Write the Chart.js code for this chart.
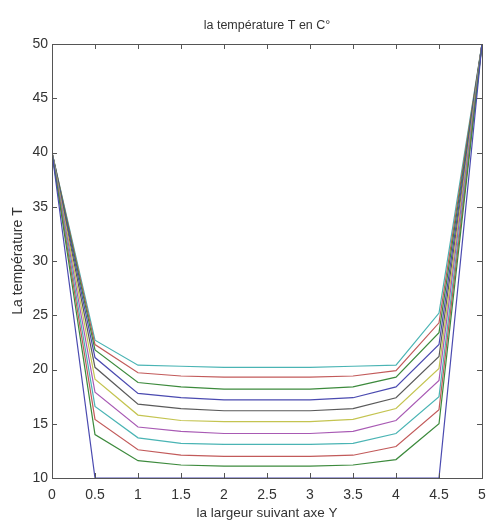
<!DOCTYPE html>
<html>
<head>
<meta charset="utf-8">
<script src="https://cdn.jsdelivr.net/npm/chart.js@4.4.0/dist/chart.umd.min.js"></script>
<style>
    body { margin: 0; background: #ffffff; }
    canvas { display: block; }
</style>
</head>
<body>
<canvas id="grafico-temperature" width="489" height="524"></canvas>
<script>
// positions le long de l'axe Y
const largeur = [0, 0.5, 1, 1.5, 2, 2.5, 3, 3.5, 4, 4.5, 5];

// courbes de température (une par pas de temps)
const courbe0 = [40, 10, 10, 10, 10, 10, 10, 10, 10, 10, 50];
const courbe1 = [40, 14.0, 11.6, 11.2, 11.1, 11.1, 11.1, 11.2, 11.7, 15.0, 50];
const courbe2 = [40, 15.4, 12.6, 12.1, 12.0, 12.0, 12.0, 12.1, 12.9, 16.3, 50];
const courbe3 = [40, 16.6, 13.7, 13.2, 13.1, 13.1, 13.1, 13.2, 14.1, 17.5, 50];
const courbe4 = [40, 17.9, 14.7, 14.3, 14.1, 14.1, 14.1, 14.3, 15.3, 19.0, 50];
const courbe5 = [40, 19.1, 15.8, 15.3, 15.2, 15.2, 15.2, 15.4, 16.4, 20.1, 50];
const courbe6 = [40, 20.2, 16.8, 16.4, 16.2, 16.2, 16.2, 16.4, 17.4, 21.2, 50];
const courbe7 = [40, 21.1, 17.8, 17.4, 17.2, 17.2, 17.2, 17.4, 18.4, 22.3, 50];
const courbe8 = [40, 21.8, 18.8, 18.4, 18.2, 18.2, 18.2, 18.4, 19.3, 23.4, 50];
const courbe9 = [40, 22.3, 19.7, 19.4, 19.3, 19.3, 19.3, 19.4, 19.9, 24.3, 50];
const courbe10 = [40, 22.7, 20.4, 20.3, 20.2, 20.2, 20.2, 20.3, 20.4, 25.2, 50];

const courbes = [courbe0, courbe1, courbe2, courbe3, courbe4, courbe5,
    courbe6, courbe7, courbe8, courbe9, courbe10];

// ordre des couleurs MATLAB (un peu délavé comme l'image)
const couleurs = ['#4a4ab0', '#3c8a3c', '#c25a5a', '#4ab4b4', '#a85ab4', '#c4c450', '#5a5a5a'];

const ticksX = [0, 0.5, 1, 1.5, 2, 2.5, 3, 3.5, 4, 4.5, 5];
const ticksY = [10, 15, 20, 25, 30, 35, 40, 45, 50];

let datasets = [];
for (var i = 0; i < courbes.length; i++) {
    let points = [];
    for (var j = 0; j < largeur.length; j++) {
        points.push({ x: largeur[j], y: courbes[i][j] });
    }
    datasets.push({
        data: points,
        borderColor: couleurs[i % couleurs.length],
        borderWidth: 1.2,
        pointRadius: 0,
        tension: 0,
        fill: false
    });
}

// petits traits vers l'intérieur + cadre complet
const cadre = {
    id: 'cadre',
    afterDraw(chart) {
        const ctx = chart.ctx;
        const a = chart.chartArea;
        const sx = chart.scales.x;
        const sy = chart.scales.y;
        ctx.save();
        ctx.strokeStyle = '#555555';
        ctx.lineWidth = 1;
        ctx.beginPath();
        for (var i = 0; i < ticksX.length; i++) {
            let px = Math.round(sx.getPixelForValue(ticksX[i])) + 0.5;
            ctx.moveTo(px, a.bottom);
            ctx.lineTo(px, a.bottom - 5);
            ctx.moveTo(px, a.top);
            ctx.lineTo(px, a.top + 5);
        }
        for (var i = 0; i < ticksY.length; i++) {
            let py = Math.round(sy.getPixelForValue(ticksY[i])) + 0.5;
            ctx.moveTo(a.left, py);
            ctx.lineTo(a.left + 5, py);
            ctx.moveTo(a.right, py);
            ctx.lineTo(a.right - 5, py);
        }
        ctx.stroke();
        ctx.strokeRect(a.left + 0.5, a.top + 0.5, a.right - a.left, a.bottom - a.top);
        ctx.restore();
    }
};

const ctx = document.getElementById('grafico-temperature');
new Chart(ctx, {
    type: 'line',
    data: { datasets: datasets },
    plugins: [cadre],
    options: {
        responsive: false,
        animation: false,
        devicePixelRatio: 1,
        layout: { padding: { left: 0, right: 7, top: 0, bottom: 0 } },
        scales: {
            x: {
                type: 'linear',
                min: 0,
                max: 5,
                afterFit: function (scale) {
                    scale.height = 46;
                    scale.paddingLeft = 0;
                    scale.paddingRight = 0;
                },
                afterBuildTicks: function (scale) {
                    scale.ticks = ticksX.map(function (v) { return { value: v }; });
                },
                grid: { display: false, drawTicks: false },
                border: { display: false },
                ticks: {
                    padding: 9,
                    maxRotation: 0,
                    autoSkip: false,
                    color: '#333333',
                    font: { size: 14, family: 'Liberation Sans' },
                    callback: function (value) { return String(value); }
                },
                title: {
                    display: true,
                    text: 'la largeur suivant axe Y',
                    color: '#333333',
                    padding: { top: 0, bottom: 3 },
                    font: { size: 13.5, family: 'Liberation Sans' }
                }
            },
            y: {
                min: 10,
                max: 50,
                afterFit: function (scale) {
                    scale.width = 52;
                    scale.paddingTop = 0;
                    scale.paddingBottom = 0;
                },
                afterBuildTicks: function (scale) {
                    scale.ticks = ticksY.map(function (v) { return { value: v }; });
                },
                grid: { display: false, drawTicks: false },
                border: { display: false },
                ticks: {
                    padding: 4,
                    autoSkip: false,
                    color: '#333333',
                    font: { size: 14, family: 'Liberation Sans' }
                },
                title: {
                    display: true,
                    text: 'La température T',
                    color: '#333333',
                    padding: { top: 9.6, bottom: 0 },
                    font: { size: 14, family: 'Liberation Sans' }
                }
            }
        },
        plugins: {
            legend: { display: false },
            tooltip: { enabled: false },
            title: {
                display: true,
                fullSize: false,
                text: 'la température T en C°',
                color: '#333333',
                padding: { top: 18.5, bottom: 10.5 },
                font: { size: 12.5, weight: 'normal', family: 'Liberation Sans' }
            }
        }
    }
});
</script>
</body>
</html>
